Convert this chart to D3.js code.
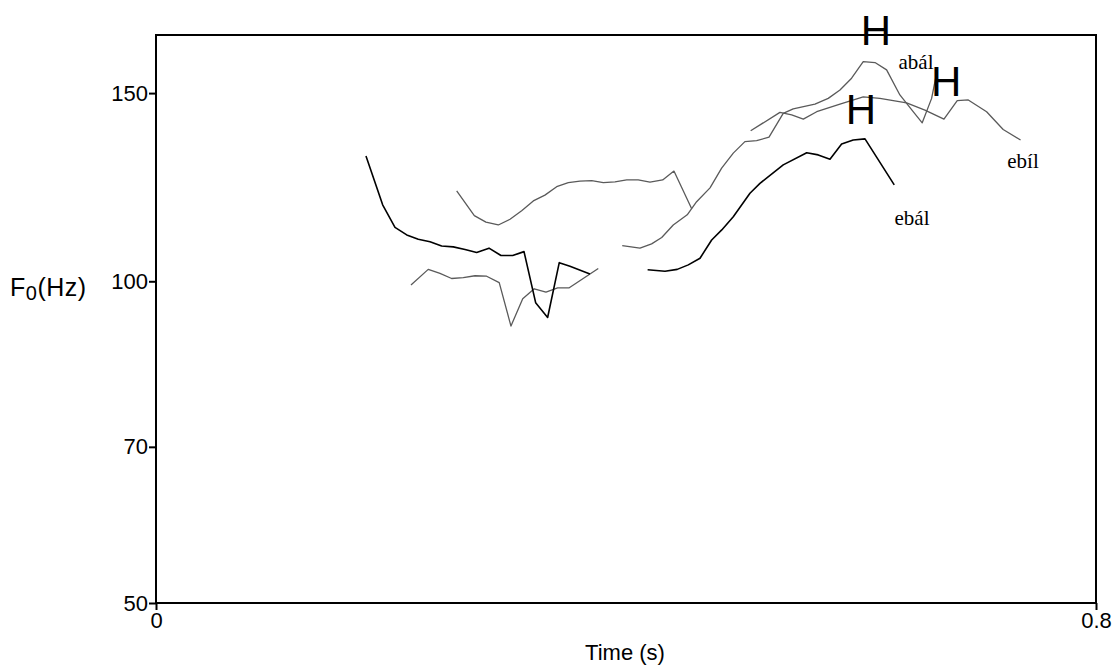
<html>
<head>
<meta charset="utf-8">
<script src="https://d3js.org/d3.v7.min.js"></script>
<style>
body { margin: 0; background: white; }
</style>
</head>
<body>
<svg height="666" width="1113" id="chart"></svg>
<script>

// pitch contours: time (s) and F0 (Hz)
var ebal1Time = [0.1787, 0.1929, 0.2034, 0.2134, 0.2232, 0.2332, 0.2431, 0.2530, 0.2630, 0.2729, 0.2834, 0.2936, 0.3036, 0.3132, 0.3231, 0.3333, 0.3432, 0.3523, 0.3693];
var ebal1F0   = [131.0, 117.9, 112.3, 110.5, 109.5, 108.9, 107.9, 107.7, 107.1, 106.4, 107.4, 105.7, 105.7, 106.6, 95.5, 92.5, 104.1, 103.3, 101.6];

var ebal2Time = [0.4184, 0.4332, 0.4436, 0.4530, 0.4630, 0.4729, 0.4815, 0.4913, 0.5055, 0.5140, 0.5338, 0.5538, 0.5636, 0.5736, 0.5835, 0.5934, 0.6034, 0.6283];
var ebal2F0   = [102.5, 102.2, 102.6, 103.6, 105.1, 109.3, 111.7, 114.9, 120.9, 123.5, 128.5, 131.9, 131.3, 130.1, 134.4, 135.6, 135.9, 123.1];

var ebil1Time = [0.2170, 0.2317, 0.2417, 0.2516, 0.2615, 0.2715, 0.2814, 0.2921, 0.3021, 0.3121, 0.3219, 0.3319, 0.3418, 0.3517, 0.3764];
var ebil1F0   = [99.2, 102.6, 101.7, 100.6, 100.8, 101.2, 101.1, 99.7, 90.8, 96.3, 98.4, 97.7, 98.6, 98.6, 102.8];

var abal1Time = [0.2559, 0.2709, 0.2808, 0.2913, 0.3013, 0.3112, 0.3211, 0.3310, 0.3410, 0.3509, 0.3608, 0.3708, 0.3807, 0.3906, 0.4006, 0.4104, 0.4204, 0.4312, 0.4408, 0.4559];
var abal1F0   = [121.5, 115.2, 113.6, 112.9, 114.3, 116.4, 118.9, 120.4, 122.6, 123.7, 124.1, 124.2, 123.7, 123.9, 124.4, 124.4, 123.8, 124.4, 126.8, 116.9];

var abal2Time = [0.3968, 0.4119, 0.4218, 0.4304, 0.4402, 0.4521, 0.4601, 0.4715, 0.4814, 0.4913, 0.5012, 0.5112, 0.5217, 0.5338, 0.5423, 0.5608, 0.5721, 0.5821, 0.5920, 0.6019, 0.6119, 0.6218, 0.6331, 0.6444, 0.6521, 0.6601, 0.6646];
var abal2F0   = [108.0, 107.4, 108.4, 109.9, 112.9, 115.4, 118.7, 122.3, 127.6, 131.8, 135.1, 135.4, 136.4, 143.6, 145.0, 146.5, 148.3, 151.0, 154.9, 160.5, 160.2, 157.7, 149.4, 144.1, 140.7, 148.3, 157.0];

var ebil2Time = [0.5061, 0.5310, 0.5410, 0.5509, 0.5623, 0.5821, 0.6019, 0.6161, 0.6388, 0.6544, 0.6706, 0.6819, 0.6913, 0.7069, 0.7210, 0.7358];
var ebil2F0   = [138.3, 143.9, 143.1, 141.8, 144.1, 146.5, 148.8, 148.3, 146.9, 144.6, 141.8, 147.6, 147.8, 144.1, 138.7, 135.6];

var yTicks = [50, 70, 100, 150];
var xTicks = [0, 0.8];
var xTickLabels = ["0", "0.8"];

// word labels and H tone marks (anchored at their centre and baseline)
var wordLabels = [
  {text: "abál", t: 0.6468, f0: 158.0},
  {text: "ebíl", t: 0.7379, f0: 127.7},
  {text: "ebál", t: 0.6434, f0: 112.9}
];
var toneMarks = [
  {text: "H", t: 0.6128, f0: 166.4},
  {text: "H", t: 0.6724, f0: 149.0},
  {text: "H", t: 0.6000, f0: 140.2}
];

var margin = {left: 156, right: 1096, top: 35, bottom: 603};

var x = d3.scaleLinear()
  .domain([0, 0.8])
  .range([margin.left, margin.right]);

var y = d3.scaleLog()
  .domain([50, 170])
  .range([margin.bottom, margin.top]);

var svg = d3.select("#chart");

// frame
svg.append("rect")
  .attr("x", margin.left)
  .attr("y", margin.top)
  .attr("width", margin.right - margin.left)
  .attr("height", margin.bottom - margin.top)
  .attr("fill", "none")
  .attr("stroke", "black")
  .attr("stroke-width", 2);

// y axis
var yAxis = d3.axisLeft(y)
  .tickValues(yTicks)
  .tickFormat(d3.format("d"))
  .tickSize(7)
  .tickPadding(1);

var gy = svg.append("g")
  .attr("transform", "translate(" + margin.left + ",0)")
  .call(yAxis);
gy.select(".domain").remove();
gy.selectAll("line").attr("stroke-width", 2);
gy.selectAll("text")
  .attr("font-family", "Liberation Sans, Arial, sans-serif")
  .attr("font-size", 22)
  .attr("fill", "black");

// x axis
var xAxis = d3.axisBottom(x)
  .tickValues(xTicks)
  .tickFormat(function(d, i) { return xTickLabels[i]; })
  .tickSize(7)
  .tickPadding(2);

var gx = svg.append("g")
  .attr("transform", "translate(0," + margin.bottom + ")")
  .call(xAxis);
gx.select(".domain").remove();
gx.selectAll("line").attr("stroke-width", 2);
gx.selectAll("text")
  .attr("font-family", "Liberation Sans, Arial, sans-serif")
  .attr("font-size", 22)
  .attr("fill", "black");

// axis titles
svg.append("text")
  .attr("x", 625)
  .attr("y", 660)
  .attr("text-anchor", "middle")
  .attr("font-family", "Liberation Sans, Arial, sans-serif")
  .attr("font-size", 22)
  .text("Time (s)");

var yTitle = svg.append("text")
  .attr("x", 10)
  .attr("y", 296)
  .attr("font-family", "Liberation Sans, Arial, sans-serif")
  .attr("font-size", 25)
  .attr("letter-spacing", 0.5);
yTitle.append("tspan").text("F");
yTitle.append("tspan").attr("font-size", 20).attr("dy", 4).text("0");
yTitle.append("tspan").attr("dy", -4).text("(Hz)");

// contours
var line = d3.line()
  .x(function(d) { return x(d[0]); })
  .y(function(d) { return y(d[1]); });

var zipper = function(times, values) {
  return times.map(function(t, i) { return [t, values[i]]; });
};

var contours = [
  {data: zipper(ebil1Time, ebil1F0), color: "#5a5a5a", width: 1.3},
  {data: zipper(abal1Time, abal1F0), color: "#5a5a5a", width: 1.3},
  {data: zipper(abal2Time, abal2F0), color: "#5a5a5a", width: 1.3},
  {data: zipper(ebil2Time, ebil2F0), color: "#5a5a5a", width: 1.3},
  {data: zipper(ebal1Time, ebal1F0), color: "#000000", width: 1.6},
  {data: zipper(ebal2Time, ebal2F0), color: "#000000", width: 1.6}
];

contours.forEach(function(c) {
  svg.append("path")
    .attr("d", line(c.data))
    .attr("fill", "none")
    .attr("stroke", c.color)
    .attr("stroke-width", c.width)
    .attr("stroke-linejoin", "round");
});

// word labels
wordLabels.forEach(function(d) {
  svg.append("text")
    .attr("x", x(d.t))
    .attr("y", y(d.f0))
    .attr("text-anchor", "middle")
    .attr("font-family", "Liberation Serif, Times New Roman, serif")
    .attr("font-size", 21)
    .text(d.text);
});

// H marks
toneMarks.forEach(function(d) {
  svg.append("text")
    .attr("x", x(d.t))
    .attr("y", y(d.f0))
    .attr("text-anchor", "middle")
    .attr("font-family", "Liberation Sans, Arial, sans-serif")
    .attr("font-size", 42)
    .text(d.text);
});

</script>
</body>
</html>
